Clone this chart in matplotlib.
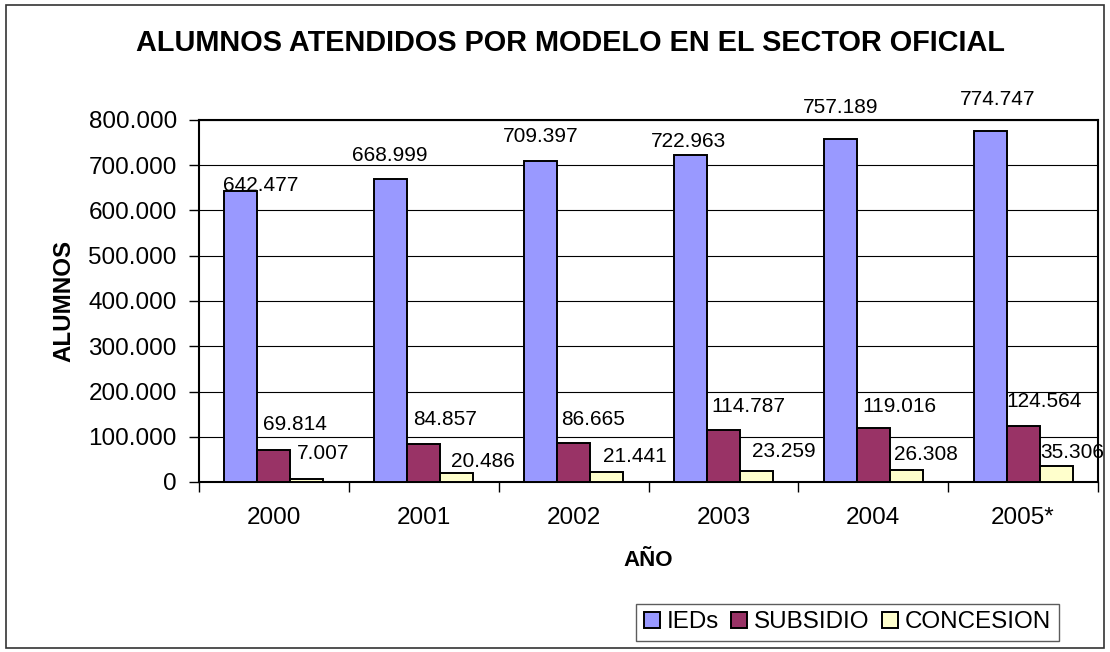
import matplotlib
matplotlib.use("Agg")
import matplotlib.pyplot as plt
from matplotlib.patches import Patch, Rectangle
from matplotlib.ticker import FuncFormatter, FixedLocator
import numpy as np

plt.rcParams['font.family'] = ['Liberation Sans', 'DejaVu Sans']

years = ["2000", "2001", "2002", "2003", "2004", "2005*"]
ieds = [642477, 668999, 709397, 722963, 757189, 774747]
subsidio = [69814, 84857, 86665, 114787, 119016, 124564]
concesion = [7007, 20486, 21441, 23259, 26308, 35306]

series_names = ["IEDs", "SUBSIDIO", "CONCESION"]
series_colors = ["#9999FF", "#993366", "#FFFFCC"]

# label offsets from each bar's top centre, in pixels (dx, dy upward)
label_offsets = [
    [(20, 6), (-1, 24), (0, 24), (-2, 13), (0, 32), (8, 32)],
    [(21, 26), (21, 24), (19, 23), (25, 24), (26, 22), (21, 24)],
    [(16, 25), (26, 11), (28, 16), (27, 20), (20, 16), (16, 14)],
]

def thousands(v):
    s = f"{int(round(v)):,}".replace(",", ".")
    return s

W, H = 1110, 652
fig = plt.figure(figsize=(W / 100, H / 100), dpi=100)
fig.patch.set_facecolor("white")

ax = fig.add_axes([199 / W, 1 - 482 / H, (1098 - 199) / W, (482 - 120) / H])

x = np.arange(len(years))
bw = 33 / 150
series = [ieds, subsidio, concesion]
for i, (vals, name, col) in enumerate(zip(series, series_names, series_colors)):
    pos = x + (i - 1) * bw
    ax.bar(pos, vals, width=bw, color=col, edgecolor="black",
           linewidth=1.4, label=name, zorder=3)
    for j, v in enumerate(vals):
        dx, dy = label_offsets[i][j]
        ax.annotate(thousands(v), xy=(pos[j], v), xytext=(dx, dy),
                    textcoords="offset pixels", ha="center", va="center",
                    fontsize=15, color="black", zorder=5)

ax.set_xlim(-0.5, len(years) - 0.5)
ax.set_ylim(0, 800000)
ax.set_yticks(np.arange(0, 800001, 100000))
ax.yaxis.set_major_formatter(FuncFormatter(lambda v, p: thousands(v)))
ax.grid(axis="y", color="black", linewidth=0.8, zorder=0)
ax.set_axisbelow(True)

ax.set_xticks(x)
ax.set_xticklabels(years)
ax.xaxis.set_minor_locator(FixedLocator(np.arange(-0.5, len(years), 1.0)))
ax.tick_params(axis="x", which="major", length=0, pad=18, labelsize=17.5)
ax.tick_params(axis="x", which="minor", length=7, width=1, direction="out")
ax.tick_params(axis="y", which="major", length=7, width=1, direction="out",
               pad=9, labelsize=17.5)

for sp in ax.spines.values():
    sp.set_color("black")
    sp.set_linewidth(1.5)

fig.text(571 / W, 1 - 43 / H, "ALUMNOS ATENDIDOS POR MODELO EN EL SECTOR OFICIAL",
         ha="center", va="center", fontsize=20.8, fontweight="bold")
fig.text(64 / W, 1 - 301 / H, "ALUMNOS", rotation=90, ha="center", va="center",
         fontsize=17.4, fontweight="bold")
fig.text(648 / W, 1 - 561 / H, "AÑO", ha="center", va="center",
         fontsize=16, fontweight="bold")

handles = [Patch(facecolor=c, edgecolor="black", linewidth=1.4) for c in series_colors]
leg = fig.legend(handles, series_names, loc="center",
                 bbox_to_anchor=(847.5 / W, 1 - 622.5 / H),
                 ncol=3, fontsize=17.4, frameon=True, fancybox=False,
                 edgecolor="#333333", handlelength=0.66, handleheight=0.66,
                 handletextpad=0.3, columnspacing=0.5, borderpad=0.3,
                 borderaxespad=0)
leg.get_frame().set_linewidth(1.0)

fig.patches.append(Rectangle((6 / W, 1 - 648 / H), (1104 - 6) / W, (648 - 5) / H,
                             transform=fig.transFigure, fill=False,
                             edgecolor="#333333", linewidth=1.2))

fig.savefig("out.png", dpi=100)
